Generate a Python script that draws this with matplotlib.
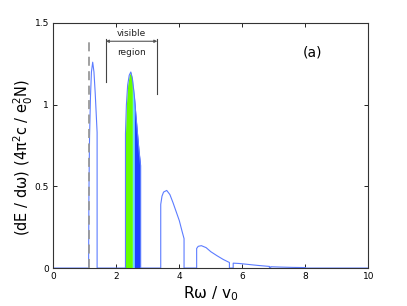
import matplotlib
matplotlib.use("Agg")
import matplotlib.pyplot as plt
import numpy as np

# lobes of the radiated spectrum
lobe1_x = [1.12, 1.13, 1.15, 1.18, 1.21, 1.25, 1.29, 1.33, 1.36, 1.39]
lobe1_y = [0.0, 0.45, 0.80, 1.05, 1.20, 1.26, 1.20, 1.07, 0.95, 0.83]

lobe2_x = [2.29, 2.32, 2.36, 2.41, 2.46, 2.51, 2.57, 2.62, 2.67, 2.72, 2.77]
lobe2_y = [0.82, 1.00, 1.12, 1.18, 1.20, 1.16, 1.06, 0.94, 0.83, 0.72, 0.63]

lobe3_x = [3.41, 3.45, 3.50, 3.60, 3.70, 3.80, 3.90, 4.00, 4.08, 4.15]
lobe3_y = [0.39, 0.44, 0.465, 0.475, 0.45, 0.40, 0.345, 0.29, 0.23, 0.18]

lobe4_x = [4.55, 4.60, 4.70, 4.85, 5.00, 5.20, 5.40, 5.59]
lobe4_y = [0.12, 0.133, 0.137, 0.125, 0.10, 0.075, 0.052, 0.034]

lobe5_x = [5.71, 5.90, 6.20, 6.50, 6.86]
lobe5_y = [0.03, 0.028, 0.022, 0.016, 0.01]

lobe6_x = [6.90, 7.20, 7.60, 8.00]
lobe6_y = [0.008, 0.006, 0.004, 0.003]

threshold_x = 1.12          # dashed line
threshold_top = 1.39
visible_lo, visible_hi = 1.67, 3.30

green_end = 2.51
blue_start = 2.57

line_col = "#5c7cff"

# stitch lobes together with zero segments in between
xs = [0.0]
ys = [0.0]
for lx, ly in [(lobe1_x, lobe1_y), (lobe2_x, lobe2_y), (lobe3_x, lobe3_y),
               (lobe4_x, lobe4_y), (lobe5_x, lobe5_y), (lobe6_x, lobe6_y)]:
    xs += [lx[0]] + lx + [lx[-1]]
    ys += [0.0] + ly + [0.0]
xs.append(10.0)
ys.append(0.0)

fig = plt.figure(figsize=(4.07, 3.06), dpi=100)
ax = fig.add_axes([0.131, 0.124, 0.774, 0.801])

# coloured fill of the visible lobe
x2 = np.array(lobe2_x)
y2 = np.array(lobe2_y)
ax.fill_between(x2, 0, y2, where=x2 <= green_end, color="#66ff00", lw=0)
ax.fill_between(x2, 0, y2, where=(x2 >= green_end) & (x2 <= blue_start),
                color="#66e0ff", lw=0)
ax.fill_between(x2, 0, y2, where=x2 >= blue_start, color="#2040ff", lw=0)

ax.plot(xs, ys, color=line_col, lw=0.8)
ax.plot([threshold_x, threshold_x], [0, threshold_top], color="#999999",
        lw=1.3, ls=(0, (5, 3)))

# "visible region" bracket
ax.plot([visible_lo, visible_lo], [1.137, 1.40], color="#444444", lw=0.8)
ax.plot([visible_hi, visible_hi], [1.067, 1.40], color="#444444", lw=0.8)
ax.annotate("", xy=(visible_lo, 1.388), xytext=(visible_hi, 1.388),
            arrowprops=dict(arrowstyle="<|-|>", color="#555555", lw=0.8,
                            mutation_scale=4, shrinkA=0, shrinkB=0))
mid = (visible_lo + visible_hi) / 2
ax.text(mid, 1.435, "visible", ha="center", va="center", fontsize=6.5,
        color="#222222")
ax.text(mid, 1.32, "region", ha="center", va="center", fontsize=6.5,
        color="#222222")

ax.text(8.24, 1.32, "(a)", ha="center", va="center", fontsize=10)

ax.set_xlim(0, 10)
ax.set_ylim(0, 1.5)
ax.set_xticks([0, 2, 4, 6, 8, 10])
ax.set_yticks([0, 0.5, 1, 1.5])
ax.set_yticklabels(["0", "0.5", "1", "1.5"])
ax.tick_params(direction="in", length=3, width=0.6, labelsize=6.5,
               top=True, right=True, pad=3)
for s in ax.spines.values():
    s.set_linewidth(0.8)
    s.set_color("#333333")

ax.set_xlabel("Rω / v$_0$", fontsize=11, labelpad=2)
ax.set_ylabel("(dE / dω) (4π$^2$c / e$_0^2$N)", fontsize=10.5, va="center")
ax.yaxis.set_label_coords(-0.095, 0.453)

fig.savefig("out.png", dpi=100)
